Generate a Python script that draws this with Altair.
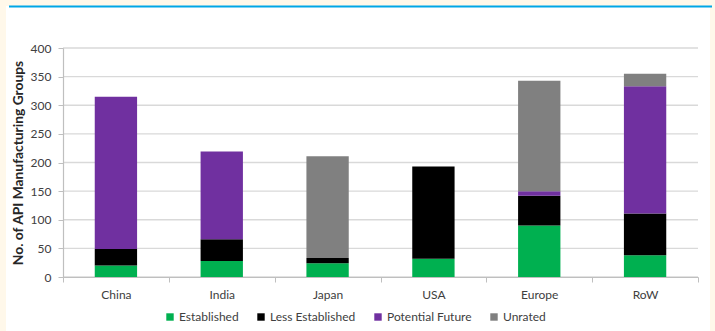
import altair as alt
import pandas as pd

# Stacked counts of API manufacturing groups by region and rating
regions = ["China", "India", "Japan", "USA", "Europe", "RoW"]
ratings = ["Established", "Less Established", "Potential Future", "Unrated"]
established = [20, 28, 24, 32, 90, 38]
less_established = [29, 38, 9, 161, 52, 73]
potential_future = [266, 153, 0, 0, 8, 222]
unrated = [0, 0, 178, 0, 193, 22]
colors = ["#00B050", "#000000", "#7030A0", "#808080"]
grid_values = [0, 50, 100, 150, 200, 250, 300, 350, 400]

series = [established, less_established, potential_future, unrated]
rows = []
for k, (name, vals) in enumerate(zip(ratings, series)):
    for region, v in zip(regions, vals):
        rows.append({"Region": region, "Rating": name, "Count": v, "order": k})
df = pd.DataFrame(rows)

FONT = "Lato"
FS = 12
W, H = 635, 229
PAD_L, PAD_T, PAD_R, PAD_B = 63, 48, 17, 54
CREAM = "#FFF8EA"
Y_TITLE = "No. of API Manufacturing Groups"

y_scale = alt.Scale(domain=[0, 400])
x_scale = alt.Scale(domain=regions, paddingInner=0, paddingOuter=0)
y_axis = alt.Axis(
    values=grid_values,
    grid=False,
    tickSize=5,
    labelPadding=7,
    titlePadding=5,
    titleFontSize=13.8,
    zindex=1,
)

grid = alt.Chart(pd.DataFrame({"v": grid_values})).mark_rule(
    color="#D9D9D9", strokeWidth=1.3
).encode(y=alt.Y("v:Q", scale=y_scale, title=Y_TITLE, axis=y_axis))

bars = alt.Chart(df).mark_bar(width=alt.RelativeBandSize(0.4)).encode(
    x=alt.X(
        "Region:N",
        sort=regions,
        scale=x_scale,
        title=None,
        axis=alt.Axis(
            tickBand="extent",
            labelAngle=0,
            labelPadding=7,
            tickSize=5,
            grid=False,
            zindex=1,
        ),
    ),
    y=alt.Y(
        "Count:Q",
        stack="zero",
        scale=y_scale,
        title=Y_TITLE,
        axis=y_axis,
    ),
    color=alt.Color(
        "Rating:N",
        scale=alt.Scale(domain=ratings, range=colors),
        sort=ratings,
        legend=alt.Legend(
            title=None,
            orient="none",
            direction="horizontal",
            legendX=101,
            legendY=263,
            symbolType="square",
            symbolSize=55,
            symbolStrokeWidth=0,
            columnPadding=16,
            labelOffset=3,
        ),
    ),
    order=alt.Order("order:Q", sort="ascending"),
)

# Page frame: cream margins and a blue top rule
left_strip = alt.Chart(pd.DataFrame({"a": [0]})).mark_rect(color=CREAM).encode(
    x=alt.value(-PAD_L), x2=alt.value(-57), y=alt.value(-PAD_T), y2=alt.value(H + PAD_B)
)
right_strip = alt.Chart(pd.DataFrame({"a": [0]})).mark_rect(color=CREAM).encode(
    x=alt.value(647), x2=alt.value(W + PAD_R), y=alt.value(-PAD_T), y2=alt.value(H + PAD_B)
)
top_strip = alt.Chart(pd.DataFrame({"a": [0]})).mark_rect(color=CREAM).encode(
    x=alt.value(-PAD_L), x2=alt.value(W + PAD_R), y=alt.value(-PAD_T), y2=alt.value(-42)
)
blue_rule = alt.Chart(pd.DataFrame({"a": [0]})).mark_rule(
    color="#00A6E6", strokeWidth=1.8
).encode(x=alt.value(-54), x2=alt.value(649), y=alt.value(-41.5))

chart = (
    alt.layer(grid, bars, left_strip, right_strip, top_strip, blue_rule)
    .properties(
        width=W,
        height=H,
        autosize=alt.AutoSizeParams(type="none"),
        padding={"left": PAD_L, "top": PAD_T, "right": PAD_R, "bottom": PAD_B},
        background="#FFFFFF",
    )
    .configure_view(stroke=None)
    .configure_axis(
        labelFont=FONT,
        labelFontSize=FS,
        labelColor="#404040",
        titleFont=FONT,
        titleFontSize=FS,
        titleFontWeight="bold",
        titleColor="#262626",
        domainColor="#BFBFBF",
        tickColor="#BFBFBF",
        domainWidth=1.2,
    )
    .configure_legend(labelFont=FONT, labelFontSize=FS, labelColor="#404040")
)

chart.save("out.html", embed_options={"renderer": "svg", "actions": False})
